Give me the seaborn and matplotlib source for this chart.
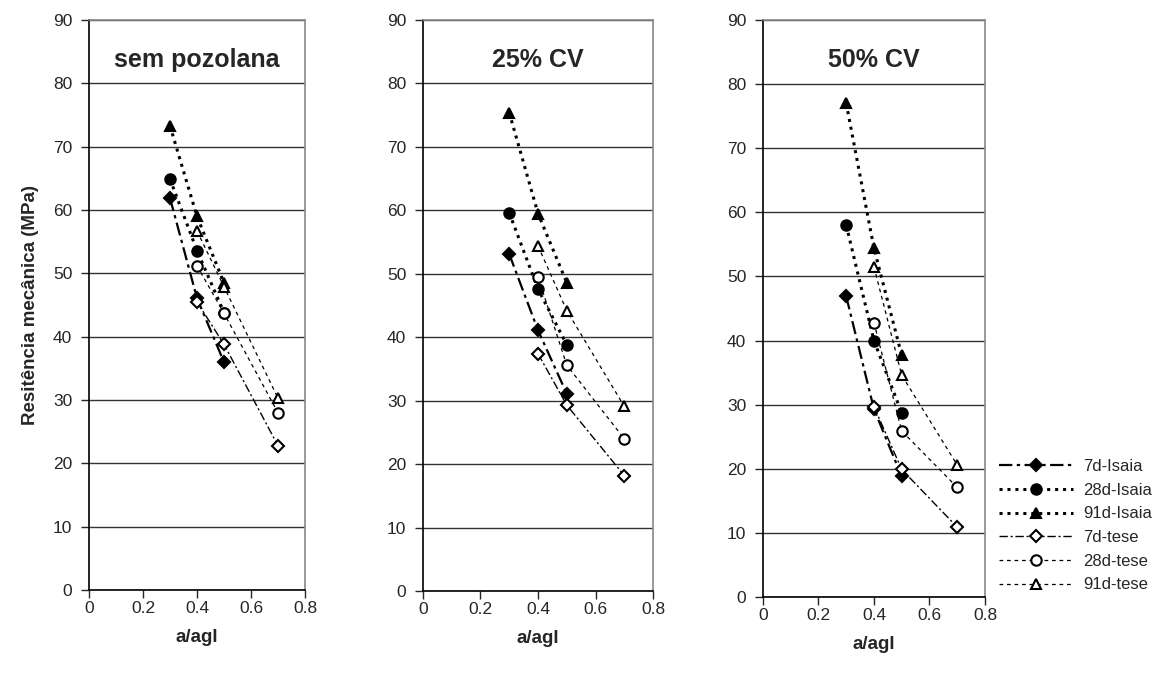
import numpy as np
import seaborn as sns
import matplotlib.pyplot as plt
from matplotlib.ticker import FormatStrFormatter

sns.set_style("white")
plt.rcParams['font.family'] = ['Liberation Sans', 'DejaVu Sans']

# water/binder ratios
x_isaia = [0.3, 0.4, 0.5]
x_tese = [0.4, 0.5, 0.7]

titles = ["sem pozolana", "25% CV", "50% CV"]

# strength values (MPa) per panel
isaia_7d = [[61.9, 46.1, 36.0], [53.1, 41.1, 31.1], [46.9, 29.3, 18.8]]
isaia_28d = [[64.9, 53.6, 43.8], [59.6, 47.6, 38.8], [58.0, 40.0, 28.7]]
isaia_91d = [[73.3, 59.0, 48.5], [75.4, 59.5, 48.6], [77.0, 54.4, 37.7]]
tese_7d = [[45.5, 38.8, 22.8], [37.4, 29.3, 18.2], [29.7, 19.9, 10.9]]
tese_28d = [[51.2, 43.7, 28.0], [49.5, 35.6, 24.0], [42.8, 25.9, 17.1]]
tese_91d = [[56.7, 47.9, 30.3], [54.4, 44.2, 29.1], [51.5, 34.6, 20.6]]

series = [
    ("7d-Isaia", x_isaia, isaia_7d, "D", "k", (0, (6, 2, 1.5, 2)), 1.6),
    ("28d-Isaia", x_isaia, isaia_28d, "o", "k", (0, (1, 1.6)), 2.2),
    ("91d-Isaia", x_isaia, isaia_91d, "^", "k", (0, (1, 1.6)), 2.2),
    ("7d-tese", x_tese, tese_7d, "D", "white", (0, (6, 2, 1.5, 2)), 1.0),
    ("28d-tese", x_tese, tese_28d, "o", "white", (0, (3, 3)), 0.9),
    ("91d-tese", x_tese, tese_91d, "^", "white", (0, (3, 3)), 0.9),
]

fig = plt.figure(figsize=(11.72, 6.82), dpi=100)
boxes = [(0.0759, 0.1349, 0.1843, 0.8358),
         (0.3609, 0.1334, 0.1963, 0.8373),
         (0.6510, 0.1246, 0.1894, 0.8461)]

axes = []
for i, b in enumerate(boxes):
    ax = fig.add_axes(b)
    for name, xs, vals, mk, fc, ls, lw in series:
        ms = 7.5 if mk != "D" else 6.5
        sns.lineplot(x=xs, y=vals[i], ax=ax, color="k", marker=mk, markersize=ms,
                     markerfacecolor=fc, markeredgecolor="k", markeredgewidth=1.5,
                     linestyle=ls, linewidth=lw, label=name, legend=False, sort=False)
    ax.set_xlim(0, 0.8)
    ax.set_ylim(0, 90)
    ax.set_xticks(np.arange(0, 0.81, 0.2))
    ax.set_yticks(range(0, 91, 10))
    ax.xaxis.set_major_formatter(FormatStrFormatter("%g"))
    ax.yaxis.grid(True, color="#333333", linewidth=1.0)
    ax.set_axisbelow(True)
    for s in ["top", "right"]:
        ax.spines[s].set_color("#888888")
        ax.spines[s].set_linewidth(1.2)
    for s in ["left", "bottom"]:
        ax.spines[s].set_color("black")
        ax.spines[s].set_linewidth(1.2)
    ax.tick_params(axis="both", direction="out", length=6, width=1, labelsize=12.5,
                   left=True, bottom=True)
    ax.tick_params(axis="x", pad=2)
    ax.tick_params(axis="y", pad=6)
    ax.set_xlabel("a/agl", fontsize=13.5, fontweight="bold", labelpad=9)
    ax.set_ylabel("")
    ax.text(0.5, 0.93, titles[i], transform=ax.transAxes, ha="center", va="center",
            fontsize=18, fontweight="bold")
    axes.append(ax)

axes[0].set_ylabel("Resitência mecânica (MPa)", fontsize=13.5, fontweight="bold", labelpad=10)

handles, labels = axes[2].get_legend_handles_labels()
fig.legend(handles, labels, loc="center left", bbox_to_anchor=(0.840, 0.229),
           frameon=False, fontsize=12, handlelength=4.4, labelspacing=0.52,
           handletextpad=0.6)

fig.savefig("out.png", dpi=100)
